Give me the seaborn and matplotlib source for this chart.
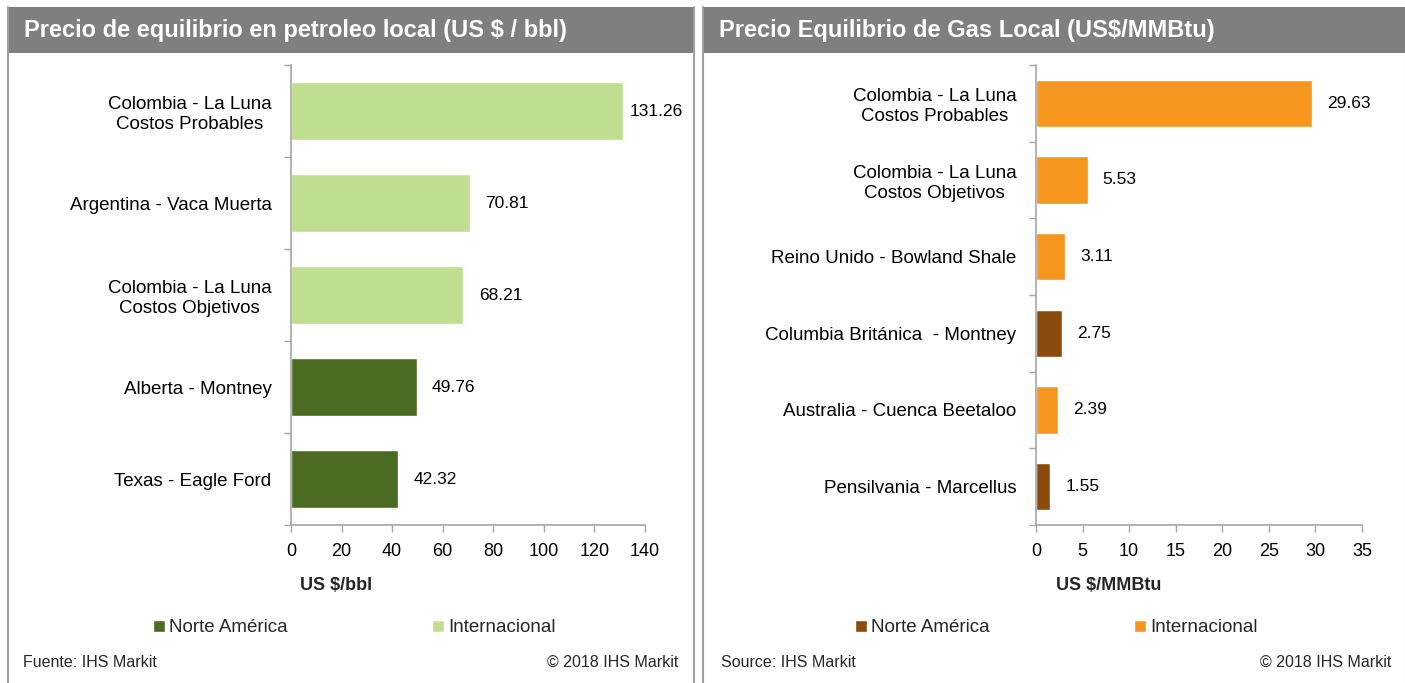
import pandas as pd
import matplotlib.pyplot as plt
import seaborn as sns
from matplotlib.patches import Rectangle
from matplotlib.lines import Line2D

# Datos - petróleo
oil_labels = ["Colombia - La Luna\nCostos Probables", "Argentina - Vaca Muerta",
              "Colombia - La Luna\nCostos Objetivos", "Alberta - Montney", "Texas - Eagle Ford"]
oil_values = [131.26, 70.81, 68.21, 49.76, 42.32]
oil_region = ["Internacional", "Internacional", "Internacional", "Norte América", "Norte América"]

# Datos - gas
gas_labels = ["Colombia - La Luna\nCostos Probables", "Colombia - La Luna\nCostos Objetivos",
              "Reino Unido - Bowland Shale", "Columbia Británica  - Montney",
              "Australia - Cuenca Beetaloo", "Pensilvania - Marcellus"]
gas_values = [29.63, 5.53, 3.11, 2.75, 2.39, 1.55]
gas_region = ["Internacional", "Internacional", "Internacional", "Norte América",
              "Internacional", "Norte América"]

regions = ["Norte América", "Internacional"]
oil_colors = {"Norte América": "#4B6B22", "Internacional": "#BFDE8F"}
gas_colors = {"Norte América": "#8B4B0D", "Internacional": "#F7961E"}

W, H = 1405, 683
GRAY = "#7F7F7F"
AXIS = "#A6A6A6"

sns.set_theme(style="white")
plt.rcParams["font.family"] = ["Liberation Sans", "DejaVu Sans"]

fig = plt.figure(figsize=(W / 100, H / 100), dpi=100)


def px(x0, y0, x1, y1):
    # caja en pixeles -> fraccion de figura
    return [x0 / W, 1 - y1 / H, (x1 - x0) / W, (y1 - y0) / H]


def panel(x0, x1, title, labels, values, region, colors, xmax, step, xlabel, xlabel_x,
          ax_box, leg_x, src, src_x, copy_x):
    # marco y cabecera
    fig.add_artist(Rectangle((x0 / W, 1 - 53 / H), (x1 - x0) / W, 46 / H,
                             transform=fig.transFigure, color=GRAY, lw=0))
    for xx in (x0, x1):
        fig.add_artist(Line2D([xx / W, xx / W], [0, 1 - 7 / H], transform=fig.transFigure,
                              color="#A0A0A0", lw=1.5))
    fig.text((x0 + 16) / W, 1 - 31 / H, title, color="white", fontsize=17,
             fontweight="bold", va="center")

    df = pd.DataFrame({"cat": labels, "val": values, "reg": region})
    ax = fig.add_axes(px(*ax_box))
    sns.barplot(data=df, y="cat", x="val", hue="reg", hue_order=regions, palette=colors,
                dodge=False, width=0.62, saturation=1, ax=ax, orient="h")
    n = len(labels)
    ax.set_xlim(0, xmax)
    ax.set_ylim(n - 0.5, -0.5)
    ax.set_xticks(range(0, xmax + 1, step))
    ax.set_yticks(range(n))
    ax.set_yticks([i - 0.5 for i in range(n + 1)], minor=True)
    ax.set_yticklabels(labels, fontsize=13.5, color="black")
    ax.tick_params(axis="y", which="major", length=0, pad=14)
    ax.tick_params(axis="y", which="minor", length=5, color=AXIS, width=1, left=True)
    ax.tick_params(axis="x", length=5, color=AXIS, width=1, bottom=True,
                   labelsize=13, labelcolor="black", pad=8)
    for t in ax.get_yticklabels():
        t.set_multialignment("center")
    for s in ("top", "right"):
        ax.spines[s].set_visible(False)
    for s in ("left", "bottom"):
        ax.spines[s].set_color(AXIS)
        ax.spines[s].set_linewidth(1.2)
    ax.set_xlabel("")
    ax.set_ylabel("")
    for c in ax.containers:
        txts = ax.bar_label(c, labels=[f"{v:.2f}" if v == v and v > 0 else "" for v in c.datavalues],
                            padding=11, fontsize=12.5, color="black")
        # la etiqueta más larga se acerca a la barra para caber en el panel
        for v, t in zip(c.datavalues, txts):
            if v == v and v / xmax > 0.9:
                t.xyann = (5, 0)

    fig.text(xlabel_x / W, 1 - 585 / H, xlabel, fontsize=13, fontweight="bold", va="center")

    sns.move_legend(ax, "center left", bbox_to_anchor=(leg_x / W, 1 - 628 / H),
                    bbox_transform=fig.transFigure, ncol=2, frameon=False, title=None,
                    fontsize=13.5, handlelength=0.65, handleheight=0.65, handletextpad=0.2,
                    columnspacing=7.7, borderpad=0, borderaxespad=0)

    fig.text(src_x / W, 1 - 667 / H, src, fontsize=11.5, va="baseline")
    fig.text(copy_x / W, 1 - 667 / H, "© 2018 IHS Markit", fontsize=11.5,
             va="baseline", ha="right")


panel(8, 694, "Precio de equilibrio en petroleo local (US $ / bbl)", oil_labels, oil_values,
      oil_region, oil_colors, 140, 20, "US $/bbl", 300, (291, 65, 645, 525), 153,
      "Fuente: IHS Markit", 23, 678)
panel(703, 1406, "Precio Equilibrio de Gas Local (US$/MMBtu)", gas_labels, gas_values,
      gas_region, gas_colors, 35, 5, "US $/MMBtu", 1056, (1036, 65, 1362, 525), 855,
      "Source: IHS Markit", 721, 1391)

fig.savefig("out.png", dpi=100)
